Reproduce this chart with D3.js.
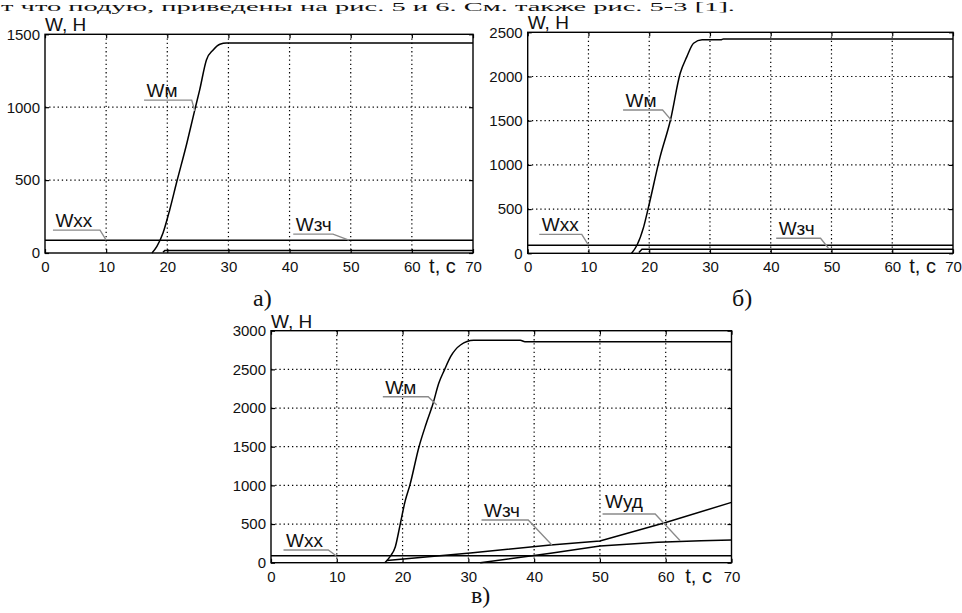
<!DOCTYPE html>
<html><head><meta charset="utf-8">
<script src="https://cdn.jsdelivr.net/npm/d3@7"></script>
<style>body{margin:0;background:#fff}svg{display:block}</style>
</head><body>
<svg id="c" width="962" height="613"></svg>
<script>
// ---------- data ----------
const tTicks = [0,10,20,30,40,50,60,70];
const yTicksA = [0,500,1000,1500];
const yTicksB = [0,500,1000,1500,2000,2500];
const yTicksC = [0,500,1000,1500,2000,2500,3000];

const wmA   = [[17.5,0],[18.3,45],[19.3,137],[20.4,297],[21.5,480],[23.2,753],[24.5,982],[25.3,1119],[26.4,1324],[27.5,1393],[28.6,1432],[29.7,1440],[70,1440]];
const wxxA  = [[0,88],[70,88]];
const wzchA = [[19.3,5],[19.6,18],[70,18]];

const wmB   = [[17.1,0],[18.0,94],[19.1,302],[19.9,528],[21.8,1093],[23.5,1508],[25.1,2036],[26.2,2225],[27.3,2376],[28.7,2415],[31.8,2415],[32.2,2425],[70,2425]];
const wxxB  = [[0,92],[70,92]];
const wzchB = [[18.3,10],[18.8,45],[70,45]];

const wmC   = [[17.3,0],[18.1,78],[18.9,207],[19.6,480],[20.4,800],[21.1,1000],[22.5,1500],[23.6,1800],[24.6,2050],[25.5,2320],[26.4,2500],[27.3,2664],[28.8,2815],[30.8,2875],[37.9,2875],[38.6,2858],[70,2858]];
const wxxC  = [[0,90],[70,90]];
const wzchC = [[17.6,30],[30.3,125],[42.5,229],[50,280],[60,520],[70,780]];
const wudC  = [[31.8,0],[42.5,121],[50,215],[58.8,266],[65.4,285],[70,292]];

const topText = "т что подую, приведены на рис. 5 и 6. См. также рис. 5-3 [1].";

// ---------- layout ----------
const panels = [
  {x0:45, x1:473, yTop:34.3, yBot:253, yMax:1500, yTicks:yTicksA, cap:"а)", capX:253, capY:306,
   series:[{d:wmA,smooth:true},{d:wxxA},{d:wzchA}],
   notes:[
     {txt:"Wм",  u0:16.2,u1:24.0,uv:1048, tt:24.5,tv:975},
     {txt:"Wхх", u0:1.3, u1:9.0, uv:157,  tt:10,  tv:88},
     {txt:"Wзч", u0:40.6,u1:47.1,uv:130,  tt:49.7,tv:88}
   ]},
  {x0:527.7, x1:953, yTop:32.3, yBot:253.3, yMax:2500, yTicks:yTicksB, cap:"б)", capX:732, capY:306,
   series:[{d:wmB,smooth:true},{d:wxxB},{d:wzchB}],
   notes:[
     {txt:"Wм",  u0:15.7,u1:22.2,uv:1621, tt:23.7,tv:1500},
     {txt:"Wхх", u0:1.9, u1:8.9, uv:215,  tt:10,  tv:92},
     {txt:"Wзч", u0:40.9,u1:48.2,uv:170,  tt:49.5,tv:57}
   ]},
  {x0:271, x1:731.5, yTop:330.7, yBot:562.7, yMax:3000, yTicks:yTicksC, cap:"в)", capX:471, capY:603,
   series:[{d:wmC,smooth:true},{d:wxxC},{d:wzchC},{d:wudC}],
   notes:[
     {txt:"Wм",  u0:17.0,u1:23.9,uv:2146, tt:25.2,tv:2039},
     {txt:"Wхх", u0:1.9, u1:8.7, uv:164,  tt:9.9, tv:90},
     {txt:"Wзч", u0:32.0,u1:39.1,uv:552,  tt:42.7,tv:229},
     {txt:"Wуд", u0:50.4,u1:58.4,uv:630,  tt:62.2,tv:284, lift:6}
   ]}
];

const svg = d3.select("#c");
const SANS = "'Liberation Sans', Arial, sans-serif";
const SERIF = "'Liberation Serif', 'Times New Roman', serif";

svg.append("text").attr("x",1).attr("y",11).attr("font-family",SERIF).attr("font-size",12)
  .attr("textLength",734).attr("lengthAdjust","spacingAndGlyphs").attr("fill","#111").text(topText);

panels.forEach(p=>{
  const x = d3.scaleLinear().domain([0,70]).range([p.x0,p.x1]);
  const y = d3.scaleLinear().domain([0,p.yMax]).range([p.yBot,p.yTop]);
  const g = svg.append("g");

  // grid
  g.append("g").selectAll("line").data(tTicks.filter(t=>t>0&&t<70)).join("line")
    .attr("x1",d=>x(d)).attr("x2",d=>x(d)).attr("y1",p.yTop).attr("y2",p.yBot)
    .attr("stroke","#000").attr("stroke-width",1.2).attr("stroke-dasharray","1.3,2.9");
  g.append("g").selectAll("line").data(p.yTicks.filter(v=>v>0&&v<p.yMax)).join("line")
    .attr("x1",p.x0).attr("x2",p.x1).attr("y1",d=>y(d)).attr("y2",d=>y(d))
    .attr("stroke","#000").attr("stroke-width",1.2).attr("stroke-dasharray","1.3,2.9");

  // axes
  const styleAxis = sel=>{
    sel.select(".domain").remove();
    sel.selectAll(".tick line").attr("stroke","#000").attr("stroke-width",1.2);
    sel.selectAll("text").attr("font-family",SANS).attr("font-size",15).attr("fill","#111");
  };
  g.append("g").attr("transform",`translate(0,${p.yBot})`)
    .call(d3.axisBottom(x).tickValues(tTicks).tickSize(-4).tickPadding(8.5).tickFormat(d3.format("d"))).call(styleAxis);
  g.append("g").attr("transform",`translate(0,${p.yTop})`)
    .call(d3.axisTop(x).tickValues(tTicks).tickSize(-4).tickFormat("")).call(styleAxis);
  g.append("g").attr("transform",`translate(${p.x0},0)`)
    .call(d3.axisLeft(y).tickValues(p.yTicks).tickSize(-4).tickPadding(5).tickFormat(d3.format("d"))).call(styleAxis);
  g.append("g").attr("transform",`translate(${p.x1},0)`)
    .call(d3.axisRight(y).tickValues(p.yTicks).tickSize(-4).tickFormat("")).call(styleAxis);

  g.append("rect").attr("x",p.x0).attr("y",p.yTop).attr("width",p.x1-p.x0).attr("height",p.yBot-p.yTop)
    .attr("fill","none").attr("stroke","#000").attr("stroke-width",1.4);

  // series
  p.series.forEach(s=>{
    const line = d3.line().x(d=>x(d[0])).y(d=>y(d[1])).curve(s.smooth?d3.curveMonotoneX:d3.curveLinear);
    g.append("path").attr("d",line(s.d)).attr("fill","none").attr("stroke","#000").attr("stroke-width",1.5);
  });

  // annotations
  p.notes.forEach(n=>{
    g.append("path")
      .attr("d",`M${x(n.u0)},${y(n.uv)}H${x(n.u1)}L${x(n.tt)},${y(n.tv)}`)
      .attr("fill","none").attr("stroke","#8a8a8a").attr("stroke-width",1.3);
    g.append("text").attr("x",x(n.u0)+2.5).attr("y",y(n.uv)-(n.lift||3))
      .attr("font-family",SANS).attr("font-size",19).attr("fill","#111").text(n.txt);
  });

  // axis titles
  g.append("text").attr("x",p.x0).attr("y",p.yTop-3).attr("font-family",SANS).attr("font-size",19)
    .attr("fill","#111").text("W, Н");
  g.append("text").attr("x",x(65)).attr("y",p.yBot+20).attr("text-anchor","middle")
    .attr("font-family",SANS).attr("font-size",20).attr("fill","#111").text("t, с");

  // caption
  svg.append("text").attr("x",p.capX).attr("y",p.capY).attr("font-family",SERIF).attr("font-size",24)
    .attr("fill","#111").text(p.cap);
});
</script>
</body></html>
